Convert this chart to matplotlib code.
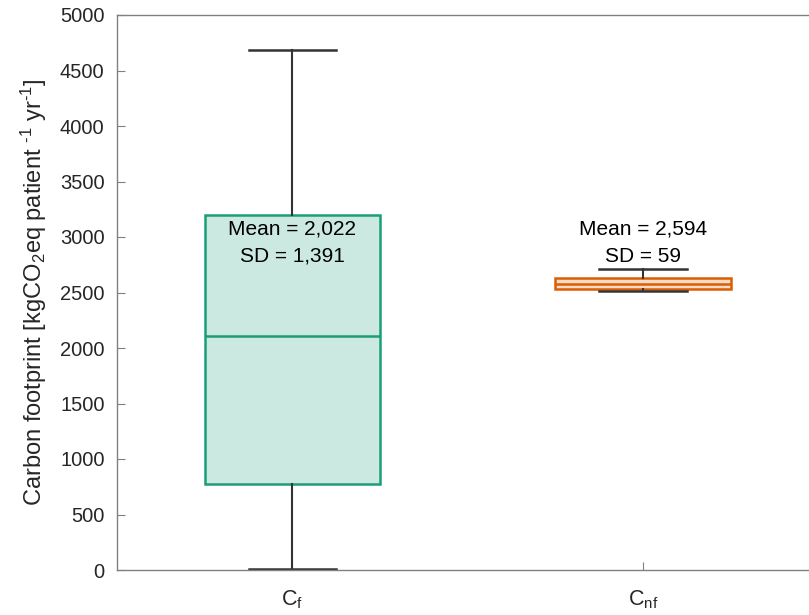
import matplotlib
matplotlib.use('Agg')
import matplotlib.pyplot as plt
from matplotlib.colors import to_rgba

# Box statistics
groups = ['$\\mathregular{C_f}$', '$\\mathregular{C_{nf}}$']
whislo = [5, 2510]
q1 = [775, 2532]
med = [2108, 2580]
q3 = [3198, 2634]
whishi = [4685, 2712]
means = ['2,022', '2,594']
sds = ['1,391', '59']

colors = ['#1b9e77', '#d95f02']

plt.rcParams['font.family'] = ['Arial', 'Liberation Sans', 'DejaVu Sans']
plt.rcParams['mathtext.fontset'] = 'custom'
plt.rcParams['mathtext.rm'] = 'Liberation Sans'
plt.rcParams['mathtext.it'] = 'Liberation Sans'

fig = plt.figure(figsize=(8.09, 6.15), dpi=100)
ax = fig.add_axes([117 / 809, 1 - 570 / 615, (818.5 - 117) / 809, (570 - 15) / 615])

stats = []
for i in range(len(groups)):
    stats.append({'whislo': whislo[i], 'q1': q1[i], 'med': med[i],
                  'q3': q3[i], 'whishi': whishi[i], 'fliers': []})

bp = ax.bxp(stats, positions=[1, 2], widths=0.5, patch_artist=True,
            showfliers=False, capwidths=0.25)

for i, c in enumerate(colors):
    box = bp['boxes'][i]
    box.set_facecolor(to_rgba(c, 0.22))
    box.set_edgecolor(c)
    box.set_linewidth(1.8)
    bp['medians'][i].set_color(c)
    bp['medians'][i].set_linewidth(1.8)
for w in bp['whiskers']:
    w.set_color('#333333')
    w.set_linewidth(1.5)
for cap in bp['caps']:
    cap.set_color('#333333')
    cap.set_linewidth(1.8)

for i in range(len(groups)):
    ax.text(i + 1, 3075, f'Mean = {means[i]}', ha='center', va='center',
            fontsize=15, color='black')
    ax.text(i + 1, 2825, f'SD = {sds[i]}', ha='center', va='center',
            fontsize=15, color='black')

ax.set_xlim(0.5, 2.5)
ax.set_ylim(0, 5000)
ax.set_yticks(range(0, 5001, 500))
ax.set_xticks([1, 2])
ax.set_xticklabels(groups)
ax.tick_params(axis='y', labelsize=14.5, labelcolor='#262626', direction='in',
               length=6, pad=9)
ax.tick_params(axis='x', labelsize=15.5, labelcolor='#262626', direction='in',
               length=6, pad=13)
for s in ax.spines.values():
    s.set_color('#808080')
    s.set_linewidth(1)
ax.tick_params(axis='both', color='#808080')

ax.set_ylabel('Carbon footprint [kgCO$_2$eq patient $^{\\text{-1}}$ yr$^{\\text{-1}}$]',
              fontsize=17, color='#262626', labelpad=8)

fig.savefig('out.png', dpi=100)
